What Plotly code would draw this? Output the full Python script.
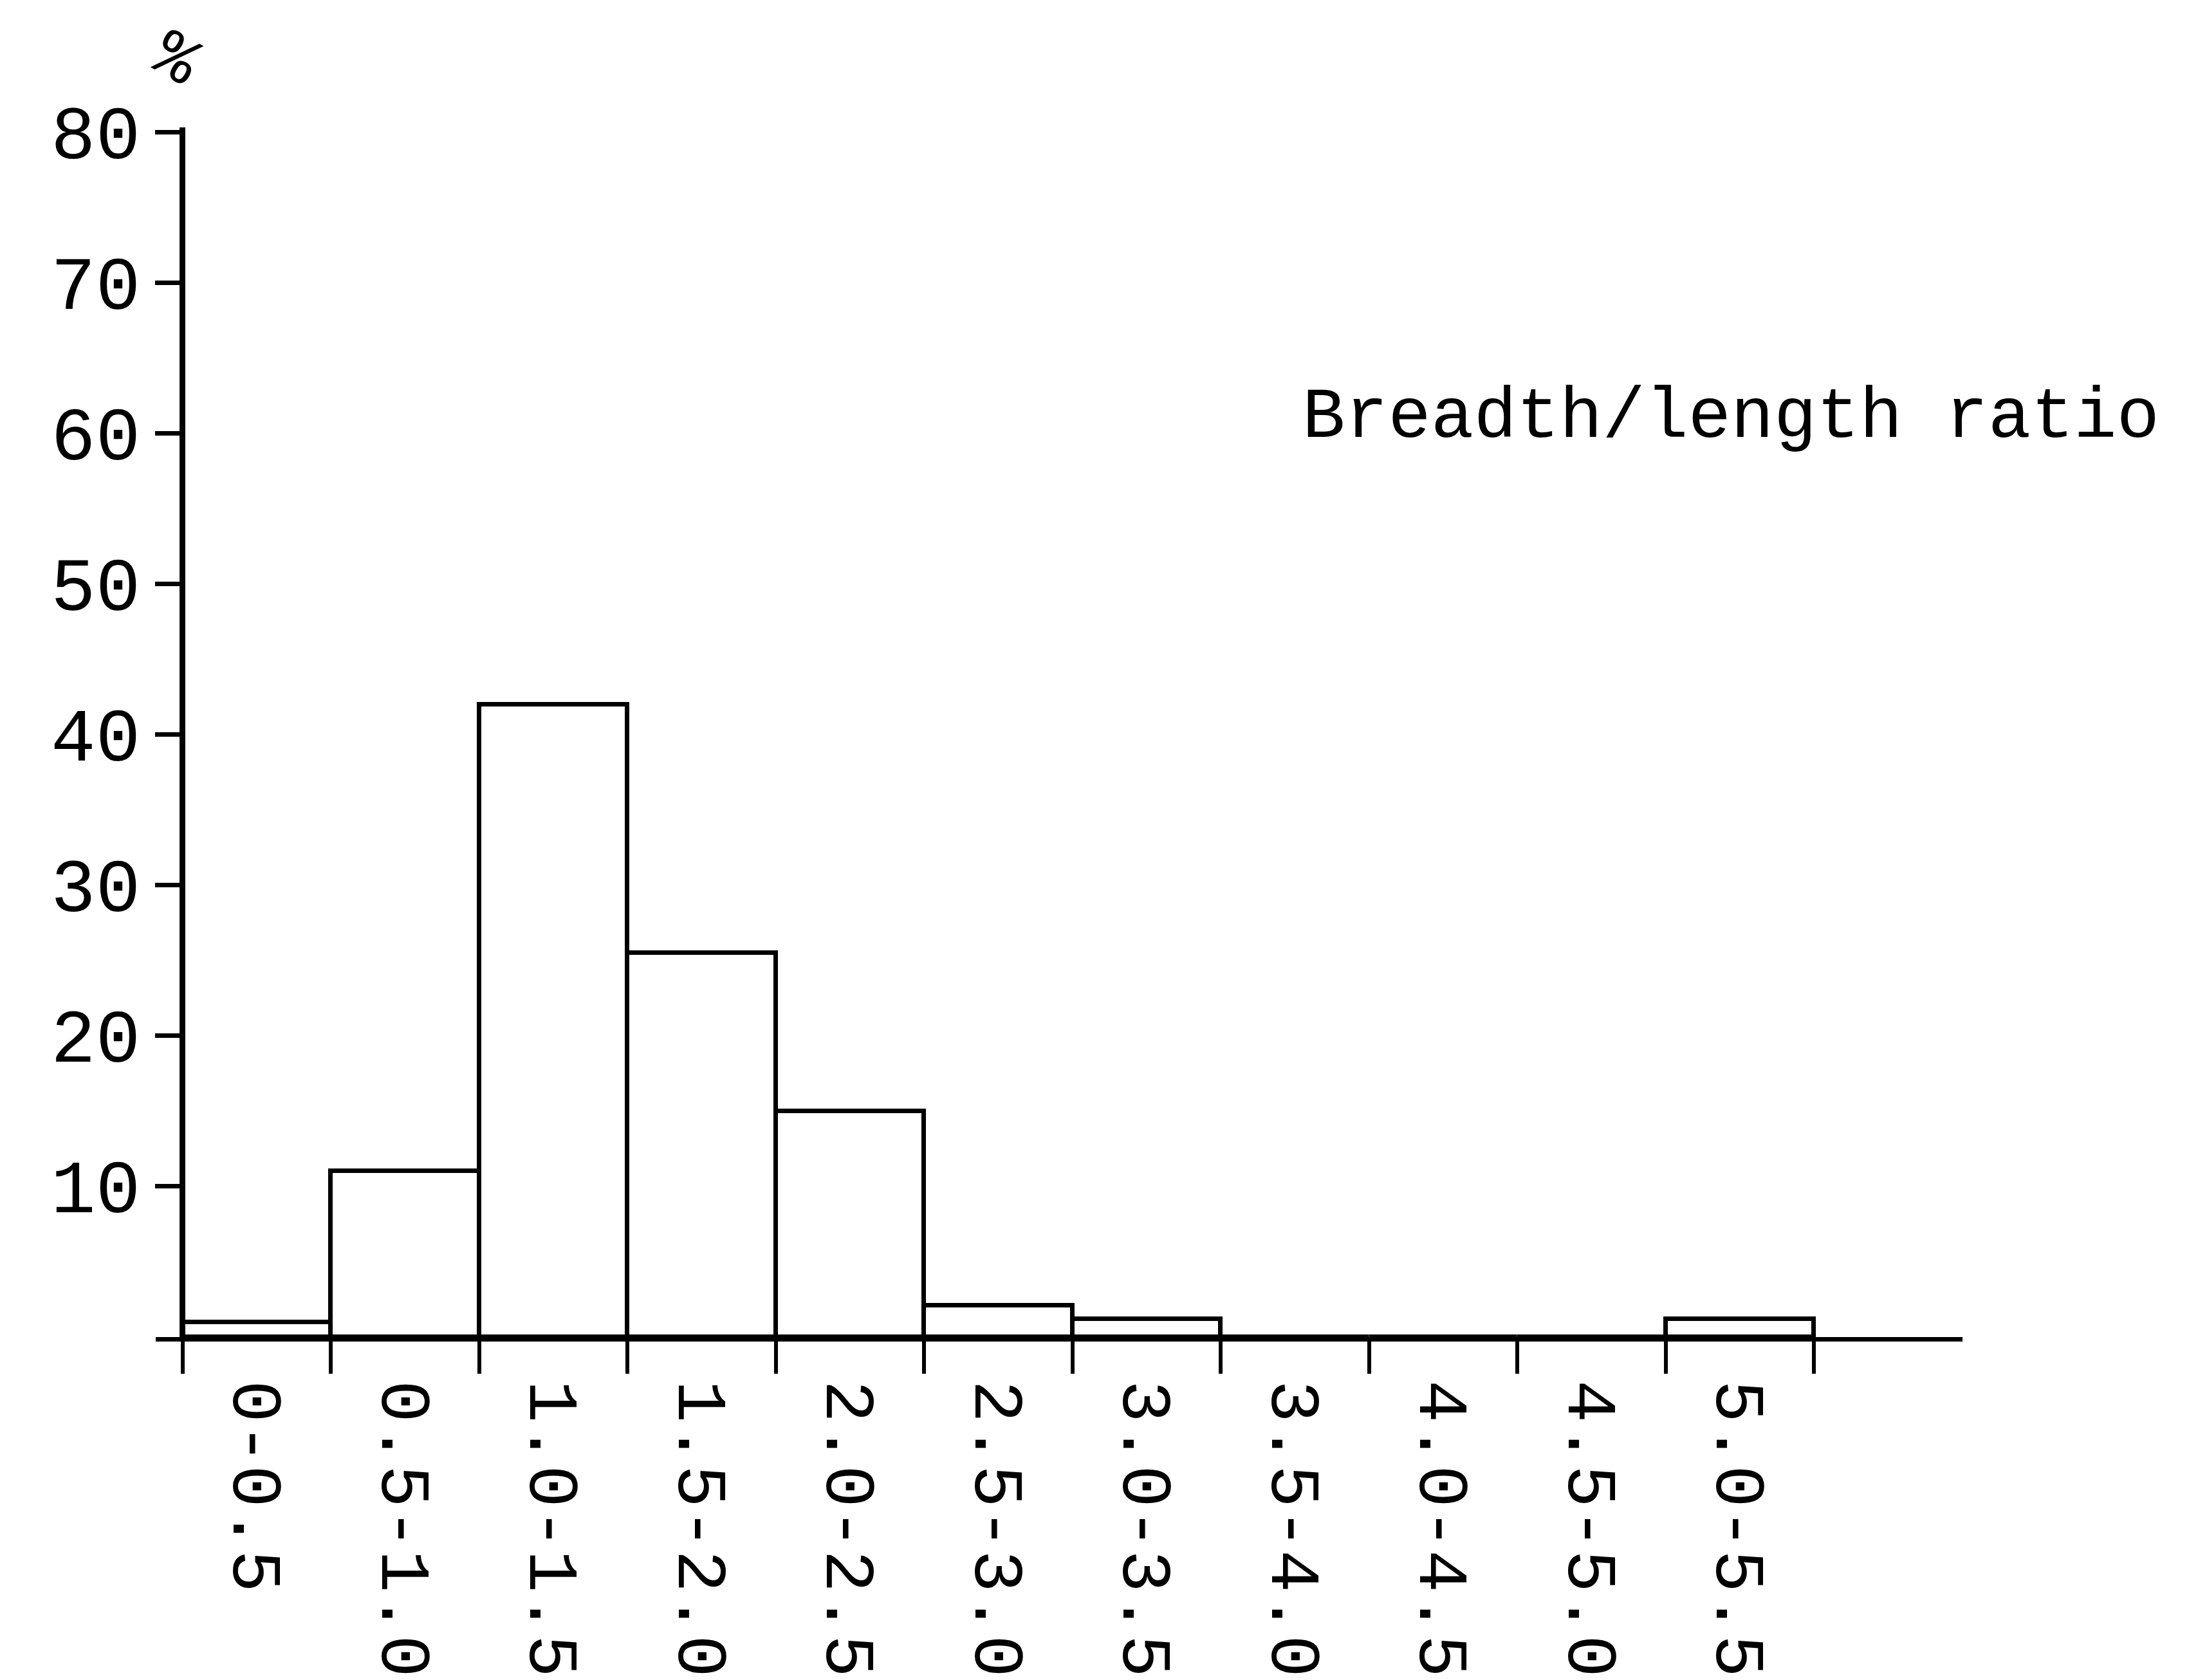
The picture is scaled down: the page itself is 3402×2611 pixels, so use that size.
import plotly.graph_objects as go

# ---- data ----
bin_lo = [0.0, 0.5, 1.0, 1.5, 2.0, 2.5, 3.0, 3.5, 4.0, 4.5, 5.0]
bin_width = 0.5
categories = ["0-0.5", "0.5-1.0", "1.0-1.5", "1.5-2.0", "2.0-2.5", "2.5-3.0",
              "3.0-3.5", "3.5-4.0", "4.0-4.5", "4.5-5.0", "5.0-5.5"]
percent = [1.0, 11.0, 42.0, 25.5, 15.0, 2.1, 1.2, 0.0, 0.0, 0.0, 1.2]
y_ticks = [10, 20, 30, 40, 50, 60, 70, 80]

centers = [lo + bin_width / 2 for lo in bin_lo]
edges = bin_lo + [bin_lo[-1] + bin_width]

FONT = "Liberation Mono"
xr = [-0.09, 6.0]
yr = [0, 80.3]
ypos = (0 - xr[0]) / (xr[1] - xr[0])

fig = go.Figure()
fig.add_trace(go.Bar(
    x=centers, y=percent, width=bin_width,
    marker=dict(color="white", line=dict(color="black", width=7)),
    showlegend=False,
))

fig.update_layout(
    width=3402, height=2611,
    margin=dict(l=234, r=360, t=190, b=539),
    paper_bgcolor="white", plot_bgcolor="white",
    font=dict(family=FONT, color="black"),
    bargap=0,
    xaxis=dict(
        range=xr, showgrid=False, zeroline=False,
        showline=True, linecolor="black", linewidth=7,
        tickmode="array", tickvals=centers, ticktext=categories,
        tickangle=90, ticks="", ticklabelstandoff=38,
        tickfont=dict(family=FONT, size=110, color="black"),
        minor=dict(tickmode="array", tickvals=edges, ticks="outside",
                   ticklen=50, tickwidth=6, tickcolor="black", showgrid=False),
    ),
    yaxis=dict(
        range=yr, showgrid=False, zeroline=False,
        anchor="free", position=ypos,
        showline=True, linecolor="black", linewidth=9,
        tickmode="array", tickvals=y_ticks, ticktext=[str(v) for v in y_ticks],
        ticks="outside", ticklen=38, tickwidth=7, tickcolor="black",
        tickfont=dict(family=FONT, size=116, color="black"),
    ),
    annotations=[
        dict(text="Breadth/length ratio", x=3.77, y=61, xref="x", yref="y",
             xanchor="left", yanchor="middle", showarrow=False,
             font=dict(family=FONT, size=111, color="black")),
        dict(text="%", x=ypos - 0.004, y=1.055, xref="paper", yref="paper",
             xanchor="center", yanchor="middle", showarrow=False, textangle=30,
             font=dict(family=FONT, size=105, color="black")),
    ],
)

fig.write_html("out.html")
